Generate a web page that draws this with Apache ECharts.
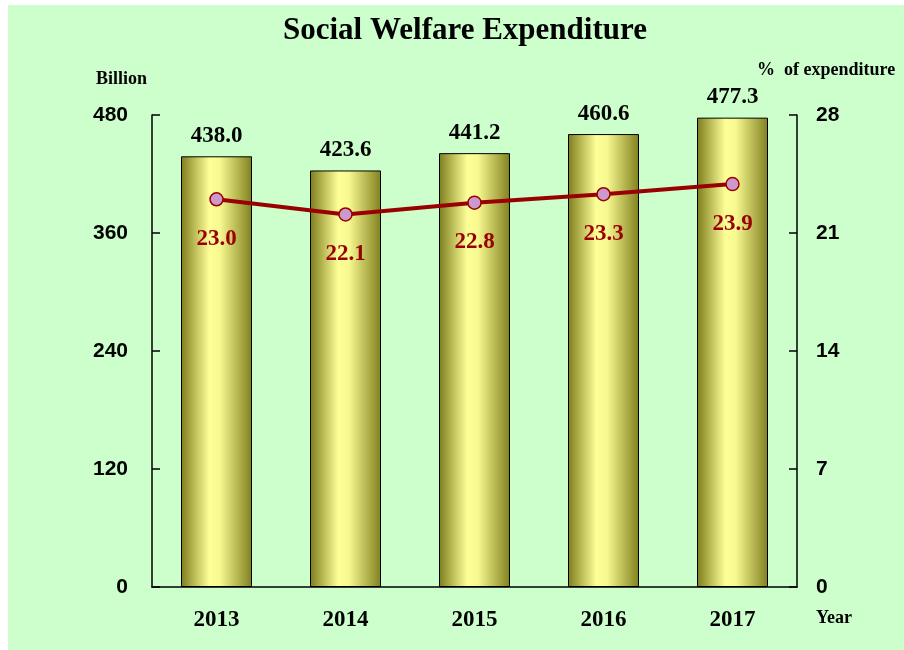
<!DOCTYPE html>
<html>
<head>
<meta charset="utf-8">
<script src="https://cdn.jsdelivr.net/npm/echarts@6/dist/echarts.min.js"></script>
<style>
  html, body { margin: 0; padding: 0; background: #ffffff; }
  #chart { width: 904px; height: 650px; }
</style>
</head>
<body>
<div id="chart"></div>
<script>
const years = ['2013', '2014', '2015', '2016', '2017']
const expenditure = [438.0, 423.6, 441.2, 460.6, 477.3]
const percentOfExpenditure = [23.0, 22.1, 22.8, 23.3, 23.9]
const leftTicks = [0, 120, 240, 360, 480]
const rightTicks = [0, 7, 14, 21, 28]

const serif = '"Liberation Serif", "Times New Roman", serif'
const sans = '"Liberation Sans", Arial, sans-serif'

const chart = echarts.init(document.getElementById('chart'))

const barGradient = new echarts.graphic.LinearGradient(0, 0, 1, 0, [
  { offset: 0, color: '#7d7d1c' },
  { offset: 0.4, color: '#ffff99' },
  { offset: 0.55, color: '#f8f890' },
  { offset: 1, color: '#80801f' }
])

const option = {
  backgroundColor: '#ffffff',
  animation: false,
  title: {
    text: 'Social Welfare Expenditure',
    left: 278,
    top: 10,
    textStyle: { fontFamily: serif, fontSize: 31, fontWeight: 'bold', color: '#000' }
  },
  graphic: [
    {
      type: 'rect',
      left: 8, top: 5,
      shape: { width: 896, height: 645 },
      style: { fill: '#ccffcc' },
      z: -10
    },
    {
      type: 'text', left: 96, top: 70,
      style: { text: 'Billion', font: 'bold 18px ' + serif, fill: '#000' }
    },
    {
      type: 'text', left: 757, top: 61,
      style: { text: '%  of expenditure', font: 'bold 18px ' + serif, fill: '#000' }
    },
    {
      type: 'text', left: 816, top: 609,
      style: { text: 'Year', font: 'bold 18px ' + serif, fill: '#000' }
    }
  ],
  grid: { left: 152, right: 107, top: 115, bottom: 63 },
  xAxis: {
    type: 'category',
    data: years,
    axisLine: { lineStyle: { color: '#000', width: 1.5 } },
    axisTick: { show: false },
    axisLabel: {
      margin: 22,
      fontFamily: serif, fontSize: 23, fontWeight: 'bold', color: '#000'
    }
  },
  yAxis: [
    {
      type: 'value',
      min: leftTicks[0], max: leftTicks[leftTicks.length - 1], interval: 120,
      axisLine: { show: true, lineStyle: { color: '#000', width: 1.5 } },
      axisTick: { show: true, inside: true, length: 8, lineStyle: { color: '#000', width: 1.5 } },
      splitLine: { show: false },
      axisLabel: {
        margin: 24,
        fontFamily: sans, fontSize: 21, fontWeight: 'bold', color: '#000'
      }
    },
    {
      type: 'value',
      min: rightTicks[0], max: rightTicks[rightTicks.length - 1], interval: 7,
      position: 'right',
      axisLine: { show: true, lineStyle: { color: '#000', width: 1.5 } },
      axisTick: { show: true, inside: true, length: 8, lineStyle: { color: '#000', width: 1.5 } },
      splitLine: { show: false },
      axisLabel: {
        margin: 19,
        fontFamily: sans, fontSize: 21, fontWeight: 'bold', color: '#000'
      }
    }
  ],
  series: [
    {
      name: 'Expenditure',
      type: 'bar',
      data: expenditure,
      barWidth: 71,
      itemStyle: { color: barGradient, borderColor: '#000', borderWidth: 1 },
      label: {
        show: true, position: 'top', distance: 9,
        formatter: p => p.value.toFixed(1),
        fontFamily: serif, fontSize: 23, fontWeight: 'bold', color: '#000'
      }
    },
    {
      name: '% of expenditure',
      type: 'line',
      yAxisIndex: 1,
      data: percentOfExpenditure,
      symbol: 'circle',
      symbolSize: 13,
      lineStyle: { color: '#990000', width: 4 },
      itemStyle: { color: '#cc99cc', borderColor: '#990000', borderWidth: 1.5 },
      label: {
        show: true, position: 'bottom', distance: 21,
        formatter: p => p.value.toFixed(1),
        fontFamily: serif, fontSize: 23, fontWeight: 'bold', color: '#990000'
      },
      z: 5
    }
  ]
}

chart.setOption(option)
</script>
</body>
</html>
